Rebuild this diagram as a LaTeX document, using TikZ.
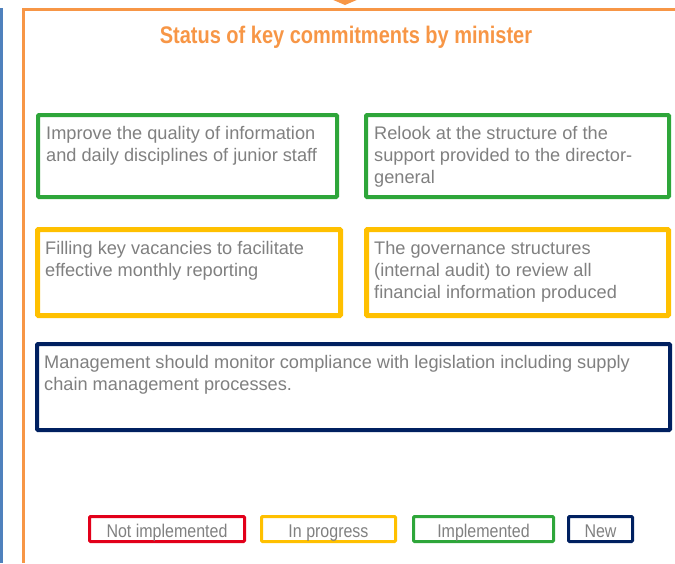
\documentclass[tikz,border=0pt]{standalone}
\usepackage{fontspec}
\setmainfont{Liberation Sans}
\definecolor{orng}{HTML}{F79646}
\definecolor{blu}{HTML}{4F81BD}
\definecolor{grn}{HTML}{2EA63A}
\definecolor{yel}{HTML}{FFC000}
\definecolor{nav}{HTML}{002060}
\definecolor{redc}{HTML}{E2001A}
\definecolor{txtg}{HTML}{808080}
\begin{document}
\begin{tikzpicture}[x=1pt,y=-1pt,
  bigbox/.style={draw, line width=4pt, rounded corners=1pt, inner sep=0pt, fill=white},
  legbox/.style={draw, line width=3pt, rounded corners=1pt, inner sep=0pt, minimum height=25pt},
  bodytxt/.style={text=txtg, font=\fontsize{18.2}{22}\selectfont, align=left, inner sep=0pt, anchor=north west},
  legtxt/.style={text=txtg, font=\fontsize{16}{19}\selectfont, inner sep=0pt, anchor=base},
  titletxt/.style={text=orng, font=\fontsize{20}{24}\selectfont\bfseries, inner sep=0pt, anchor=base}]
\useasboundingbox (0,0) rectangle (675,563);
% side lines and frame
\draw[blu, line width=3pt] (1.5,8) -- (1.5,563);
\draw[orng, line width=3pt] (23.5,563) -- (23.5,9.5) -- (675,9.5);
\fill[orng] (331,-1) -- (359,-1) -- (345,5) -- cycle;
% title
\node[titletxt] (title) at (346,43) {\scalebox{1}[1.2]{Status of key commitments by minister}};
% boxes
\node[bigbox, draw=grn, minimum width=299pt, minimum height=82pt] (b1) at (187.5,156) {};
\node[bigbox, draw=grn, minimum width=303pt, minimum height=82pt] (b2) at (517.5,156) {};
\node[bigbox, draw=yel, line width=5pt, minimum width=303pt, minimum height=86pt] (b3) at (189,272.5) {};
\node[bigbox, draw=yel, line width=5pt, minimum width=302pt, minimum height=86pt] (b4) at (517.5,272.5) {};
\node[bigbox, draw=nav, minimum width=633pt, minimum height=86pt] (b5) at (353.5,387) {};
% box texts
\node[bodytxt] (t1) at (46,126) {Improve the quality of information\\and daily disciplines of junior staff};
\node[bodytxt] (t2) at (374,126) {Relook at the structure of the\\support provided to the director-\\general};
\node[bodytxt] (t3) at (45,241) {Filling key vacancies to facilitate\\effective monthly reporting};
\node[bodytxt] (t4) at (374,241) {The governance structures\\(internal audit) to review all\\financial information produced};
\node[bodytxt] (t5) at (44,355) {Management should monitor compliance with legislation including supply\\chain management processes.};
% legend
\node[legbox, draw=redc, minimum width=155pt] (l1) at (167,529) {};
\node[legbox, draw=yel, minimum width=134pt] (l2) at (328.5,529) {};
\node[legbox, draw=grn, minimum width=140pt] (l3) at (483.5,529) {};
\node[legbox, draw=nav, minimum width=64pt] (l4) at (600.5,529) {};
\node[legtxt] (lt1) at ([yshift=-8pt]l1.center) {\scalebox{1}[1.15]{Not implemented}};
\node[legtxt] (lt2) at ([yshift=-8pt]l2.center) {\scalebox{1}[1.15]{In progress}};
\node[legtxt] (lt3) at ([yshift=-8pt]l3.center) {\scalebox{1}[1.15]{Implemented}};
\node[legtxt] (lt4) at ([yshift=-8pt]l4.center) {\scalebox{1}[1.15]{New}};
\end{tikzpicture}
\end{document}
